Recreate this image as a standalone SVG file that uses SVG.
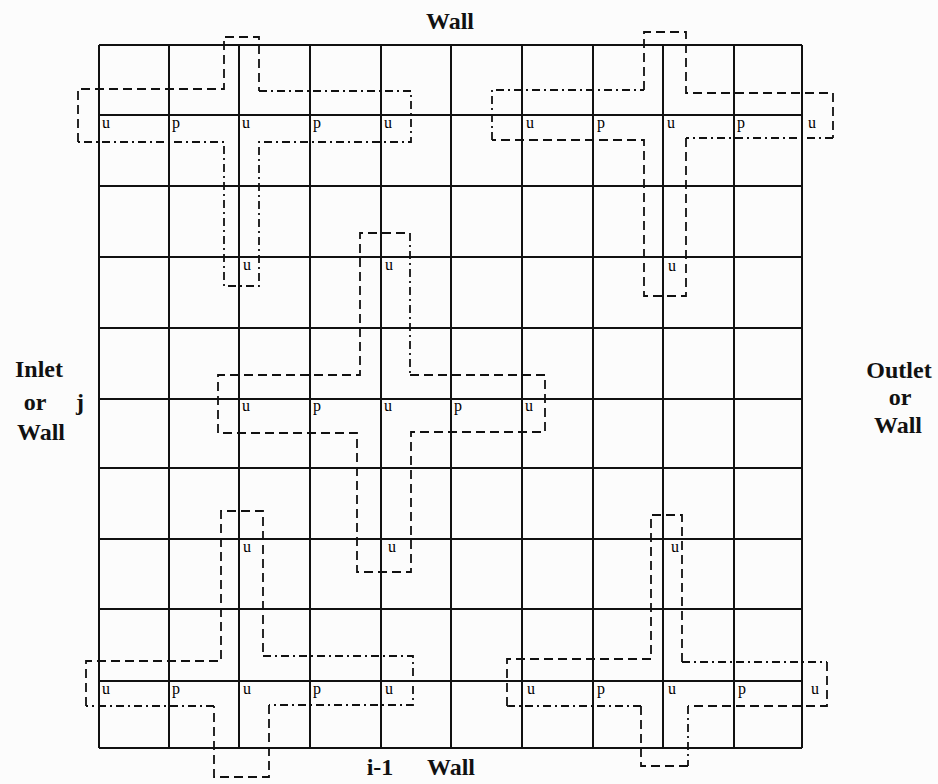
<svg xmlns="http://www.w3.org/2000/svg" width="938" height="784" viewBox="0 0 938 784">
<style>
.bg{fill:#fcfcfc}
.grid line{stroke:#111;stroke-width:2}
.cv path{fill:none;stroke:#111;stroke-width:1.8;stroke-linecap:butt}
.d{stroke-dasharray:9 5}
.dd{stroke-dasharray:8 4 2 4}
.lab{font-family:"Liberation Serif","Times New Roman",serif;font-size:16px;fill:#000}
.big{font-family:"Liberation Serif","Times New Roman",serif;font-size:24px;font-weight:bold;fill:#111}
</style>
<rect class="bg" x="0" y="0" width="938" height="784"/>
<g id="grid" class="grid">
<line x1="99" y1="45" x2="99" y2="748"/>
<line x1="169" y1="45" x2="169" y2="748"/>
<line x1="239" y1="45" x2="239" y2="748"/>
<line x1="310" y1="45" x2="310" y2="748"/>
<line x1="381" y1="45" x2="381" y2="748"/>
<line x1="451" y1="45" x2="451" y2="748"/>
<line x1="522" y1="45" x2="522" y2="748"/>
<line x1="593" y1="45" x2="593" y2="748"/>
<line x1="663" y1="45" x2="663" y2="748"/>
<line x1="734" y1="45" x2="734" y2="748"/>
<line x1="802" y1="45" x2="802" y2="748"/>
<line x1="99" y1="45" x2="802" y2="45"/>
<line x1="99" y1="115" x2="802" y2="115"/>
<line x1="99" y1="186" x2="802" y2="186"/>
<line x1="99" y1="257" x2="802" y2="257"/>
<line x1="99" y1="328" x2="802" y2="328"/>
<line x1="99" y1="399" x2="802" y2="399"/>
<line x1="99" y1="468" x2="802" y2="468"/>
<line x1="99" y1="539" x2="802" y2="539"/>
<line x1="99" y1="609" x2="802" y2="609"/>
<line x1="99" y1="681" x2="802" y2="681"/>
<line x1="99" y1="748" x2="802" y2="748"/>
</g>
<g id="connectors">
<g id="cv-top-left" class="cv">
<path class="d" d="M78,142 L78,89 L224,89 L224,37 L259,37 L259,91"/>
<path class="dd" d="M259,91 L411,91 L411,142 L259,142 L259,286 L224,286 L224,142 L78,142"/>
</g>
<g id="cv-top-right" class="cv">
<path class="dd" d="M492,140 L492,90 L644,90"/>
<path class="d" d="M644,90 L644,32 L686,32 L686,93 L833,93 L833,138"/>
<path class="dd" d="M833,138 L686,138"/>
<path class="d" d="M686,138 L686,296 L644,296 L644,140 L492,140"/>
</g>
<g id="cv-center" class="cv">
<path class="d" d="M218,433 L218,375 L360,375 L360,233 L410,233"/>
<path class="dd" d="M410,233 L410,375"/>
<path class="d" d="M410,375 L545,375 L545,432 L411,432 L411,572 L357,572 L357,433 L218,433"/>
</g>
<g id="cv-bottom-left" class="cv">
<path class="d" d="M86,706 L86,661 L221,661 L221,511 L263,511 L263,656"/>
<path class="dd" d="M263,656 L413,656 L413,705 L269,705"/>
<path class="d" d="M269,705 L269,777 L214,777 L214,706"/>
<path class="dd" d="M214,706 L86,706"/>
</g>
<g id="cv-bottom-right" class="cv">
<path class="d" d="M507,706 L507,659 L651,659 L651,515 L682,515 L682,662"/>
<path class="dd" d="M682,662 L827,662"/>
<path class="d" d="M827,662 L827,706 L688,706"/>
<path class="dd" d="M688,706 L688,766"/>
<path class="d" d="M688,766 L641,766 L641,706"/>
<path class="dd" d="M641,706 L507,706"/>
</g>
</g>
<g id="labels-top-left" class="lab">
<text x="102" y="128">u</text><text x="172" y="128">p</text><text x="242" y="128">u</text><text x="313" y="128">p</text><text x="384" y="128">u</text>
<text x="243" y="270">u</text>
</g>
<g id="labels-top-right" class="lab">
<text x="526" y="128">u</text><text x="597" y="128">p</text><text x="667" y="128">u</text><text x="737" y="128">p</text><text x="808" y="128">u</text>
<text x="668" y="271">u</text>
</g>
<g id="labels-center" class="lab">
<text x="385" y="270">u</text>
<text x="242" y="411">u</text><text x="313" y="411">p</text><text x="384" y="411">u</text><text x="454" y="411">p</text><text x="525" y="411">u</text>
<text x="388" y="552">u</text>
</g>
<g id="labels-bottom-left" class="lab">
<text x="243" y="552">u</text>
<text x="102" y="694">u</text><text x="172" y="694">p</text><text x="243" y="694">u</text><text x="313" y="694">p</text><text x="385" y="694">u</text>
</g>
<g id="labels-bottom-right" class="lab">
<text x="671" y="552">u</text>
<text x="527" y="694">u</text><text x="597" y="694">p</text><text x="668" y="694">u</text><text x="738" y="694">p</text><text x="811" y="694">u</text>
</g>
<g id="boundary-labels" class="big">
<text x="450" y="29" text-anchor="middle">Wall</text>
<text x="39" y="377" text-anchor="middle">Inlet</text>
<text x="35" y="410" text-anchor="middle">or</text>
<text x="41" y="440" text-anchor="middle">Wall</text>
<text x="80" y="410" text-anchor="middle">j</text>
<text x="899" y="378" text-anchor="middle">Outlet</text>
<text x="900" y="405" text-anchor="middle">or</text>
<text x="898" y="433" text-anchor="middle">Wall</text>
<text x="380" y="775" text-anchor="middle">i-1</text>
<text x="451" y="775" text-anchor="middle">Wall</text>
</g>
</svg>
